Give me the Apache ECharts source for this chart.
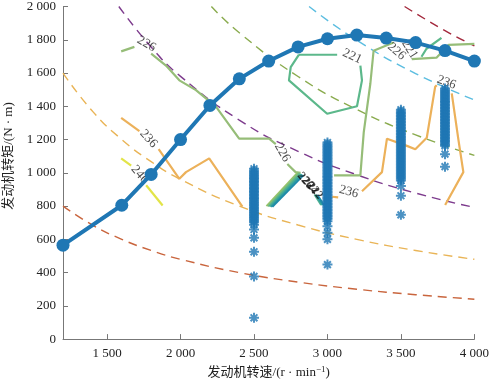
<!DOCTYPE html>
<html><head><meta charset="utf-8">
<script src="https://cdn.jsdelivr.net/npm/echarts@6/dist/echarts.min.js"></script>
<style>html,body{margin:0;padding:0;background:#fff}#c{width:492px;height:384px}</style>
</head><body><div id="c"></div>
<script>
// ---------- data ----------
const xTicks = [1500, 2000, 2500, 3000, 3500, 4000];
// maximum torque curve
const maxSpeed  = [1200, 1600, 1800, 2000, 2200, 2400, 2600, 2800, 3000, 3200, 3400, 3600, 3800, 4000];
const maxTorque = [565, 805, 990, 1200, 1405, 1565, 1672, 1757, 1806, 1828, 1810, 1783, 1735, 1672];

// constant power dashed curves [speed, torque]
const powA = [[1200,800],[1400,686],[1600,600],[1800,533],[2000,480],[2400,400],[2800,343],[3200,300],[3600,267],[4000,240]];
const powB = [[1200,1600],[1400,1371],[1600,1200],[1800,1067],[2000,960],[2400,800],[2800,686],[3200,600],[3600,533],[4000,480]];
const powC = [[1580,2000],[1800,1756],[2000,1580],[2400,1317],[2800,1129],[3200,988],[3600,878],[4000,792]];
const powD = [[2210,2000],[2400,1842],[2800,1579],[3200,1381],[3600,1228],[4000,1105]];
const powE = [[2875,2000],[3200,1797],[3600,1597],[4000,1438]];
const powF = [[3525,2000],[3800,1855],[4000,1763]];

// BSFC contours (segments)
const c221_1 = [[2806,1710],[3066,1710]];
const c221_2 = [[3224,1645],[3235,1556],[3201,1400],[2998,1355],[2738,1556],[2750,1635],[2806,1710]];
const c221_3 = [[3640,1698],[3674,1746],[3776,1811]];
const c226_1 = [[1596,1730],[1686,1757]];
const c226_2 = [[1800,1716],[1901,1645],[1992,1556],[2105,1497],[2241,1398],[2399,1205],[2603,1205],[2648,1172]];
const c226_3 = [[2727,1053],[2783,1004],[2817,1000]];
const c226_4 = [[3045,984],[3224,984],[3247,1243],[3292,1537],[3314,1734],[3450,1783]];
const c226_5 = [[3574,1684],[3742,1692],[3824,1769],[4000,1775]];
const c236_1 = [[1596,1330],[1720,1250]];
const c236_2 = [[1851,1142],[1992,964],[2037,1004],[2195,1087],[2421,797]];
const c236_3 = [[3032,856],[3073,852]];
const c236_4 = [[3235,889],[3371,1004],[3405,1205],[3541,1162],[3598,1142],[3676,1211],[3733,1517],[3744,1527]];
const c236_5 = [[3846,1478],[3891,1201],[3925,1004],[3801,806]];
const c246_1 = [[1596,1087],[1664,1043]];
const c246_2 = [[1766,925],[1878,803]];
// tightly packed contours (222–225)
const cg_1 = [[2797,1000],[2585,800]];
const cg_2 = [[2807,997],[2595,798]];
const cg_3 = [[2817,994],[2605,797]];
const cg_4 = [[2827,990],[2615,796]];
const cg_5 = [[2837,986],[2625,795]];
const cg_6 = [[2912,870],[2957,806]];
const cg_7 = [[2922,868],[2967,805]];
const cg_8 = [[2932,866],[2977,804]];

// contour labels [speed, torque, text, angle]
const contourLabels = [
  [1768,1775,'226',-30],[1782,1205,'236',-48],[1722,990,'246',-50],
  [2693,1122,'226',-60],[3168,1700,'221',-25],[3470,1730,'226',-42],
  [3560,1742,'221',-58],[3145,886,'236',-15],[3810,1544,'236',-20]
];
const blobLabels = [[2848,953,'226',-50],[2881,923,'224',-50],[2915,893,'222',-50]];

// operating points (asterisks)
const op2500 = [1024,1013,1004,995,986,978,969,961,952,944,935,926,918,909,901,892,884,875,866,858,849,841,832,823,815,806,798,789,780,772,763,755,746,737,729,720,712,703,688,659,609,525,377,128];
const op3000 = [1182,1172,1163,1154,1145,1136,1127,1118,1109,1100,1091,1082,1073,1064,1055,1046,1037,1028,1019,1010,1001,992,983,974,965,956,947,938,929,920,911,902,893,884,875,866,857,848,839,830,821,812,803,794,785,776,767,758,749,740,731,722,708,678,639,600,448];
const op3500 = [1379,1369,1360,1351,1342,1333,1324,1315,1306,1297,1288,1279,1270,1261,1252,1243,1234,1225,1216,1207,1198,1189,1180,1171,1162,1153,1144,1135,1126,1117,1108,1099,1090,1081,1072,1063,1054,1045,1036,1027,1018,1009,1000,991,982,973,964,954,921,862,747];
const op3800 = [1507,1497,1488,1479,1470,1461,1452,1443,1434,1425,1416,1407,1398,1389,1380,1371,1362,1353,1344,1335,1326,1317,1308,1299,1290,1281,1272,1263,1254,1245,1236,1227,1218,1209,1200,1191,1182,1172,1162,1112,1037];

// ---------- chart ----------
const BLUE = '#1f77b4';
const SERIF = '"Liberation Serif","Times New Roman","Noto Sans CJK SC",serif';
const star = 'path://M5,0L5,10M0,5L10,5M1.6,1.6L8.4,8.4M1.6,8.4L8.4,1.6';
const fmt = v => v >= 1000 ? String(v).replace(/(\d)(\d{3})$/, '$1 $2') : String(v);

const series = [];
function dashed(d, color) {
  series.push({type:'line', data:d, smooth:0.5, symbol:'none', silent:true,
    lineStyle:{color, width:1.4, type:[9,6]}, z:1});
}
function contour(d, color, w) {
  series.push({type:'line', data:d, symbol:'none', silent:true, lineStyle:{color, width:w||2.2}, z:2});
}
dashed(powA, '#c9653d'); dashed(powB, '#e9b456'); dashed(powC, '#7d3b8d');
dashed(powD, '#8aab4e'); dashed(powE, '#5bbde0'); dashed(powF, '#a3283c');

[c221_1,c221_2,c221_3].forEach(d => contour(d, '#5cb88b'));
[c226_1,c226_2,c226_3,c226_4,c226_5].forEach(d => contour(d, '#96bd78'));
[c236_1,c236_2,c236_3,c236_4,c236_5].forEach(d => contour(d, '#ecb15a'));
[c246_1,c246_2].forEach(d => contour(d, '#e2e448'));
const gCols = ['#98c36a','#74bb7d','#4fb091','#2f9fa0','#1f8aa8'];
[cg_1,cg_2,cg_3,cg_4,cg_5].forEach((d,i) => contour(d, gCols[i], 2));
[cg_6,cg_7,cg_8].forEach((d,i) => contour(d, gCols[i+2], 2));

series.push({type:'scatter', symbolSize:0, silent:true, z:3,
  data: contourLabels.map(l => ({value:[l[0],l[1]], name:l[2],
    label:{show:true, position:'inside', formatter:l[2], rotate:l[3], fontFamily:SERIF, fontSize:13, color:'#1a1a1a'}}))});
series.push({type:'scatter', symbolSize:0, silent:true, z:3,
  data: blobLabels.map(l => ({value:[l[0],l[1]], name:l[2],
    label:{show:true, position:'inside', formatter:l[2], rotate:l[3], fontFamily:SERIF, fontSize:12, fontWeight:'bold', color:'#111'}}))});

[[2500,op2500],[3000,op3000],[3500,op3500],[3800,op3800]].forEach(([x,arr]) => {
  series.push({type:'scatter', data:arr.map(t => [x,t]), symbol:star, symbolSize:10, silent:true, z:4,
    itemStyle:{color:'rgba(0,0,0,0)', borderColor:BLUE, borderWidth:2}});
});

series.push({type:'line', data:maxSpeed.map((s,i) => [s, maxTorque[i]]), symbol:'circle', symbolSize:13,
  lineStyle:{color:BLUE, width:4}, itemStyle:{color:BLUE}, z:5, silent:true});

const chart = echarts.init(document.getElementById('c'), null, {renderer:'canvas'});
chart.setOption({
  animation:false,
  grid:{left:63, right:16, top:5, bottom:41},
  xAxis:{type:'value', min:1200, max:4000,
    name:'{a|发动机转速/(r · min}{s|−1}{a|)}', nameLocation:'middle', nameGap:25,
    nameTextStyle:{rich:{a:{fontFamily:SERIF, fontSize:13, color:'#222'}, s:{fontFamily:SERIF, fontSize:9, color:'#222', verticalAlign:'top', padding:[0,0,6,0]}}},
    axisLine:{show:true, lineStyle:{color:'#777', width:1}},
    axisTick:{show:true, inside:true, length:5, customValues:xTicks, lineStyle:{color:'#777'}},
    axisLabel:{customValues:xTicks, formatter:fmt, fontFamily:SERIF, fontSize:13, color:'#222', margin:8},
    splitLine:{show:false}},
  yAxis:{type:'value', min:0, max:2000, interval:200,
    axisLine:{show:true, lineStyle:{color:'#777', width:1}},
    axisTick:{show:true, inside:true, length:5, lineStyle:{color:'#777'}},
    axisLabel:{formatter:fmt, fontFamily:SERIF, fontSize:13, color:'#222', margin:7},
    splitLine:{show:false}},
  graphic:[{type:'text', x:9, y:156, rotation:Math.PI/2,
    style:{text:'发动机转矩/(N · m)', font:'13px ' + SERIF, fill:'#222', textAlign:'center', textVerticalAlign:'middle'}}],
  series
});
</script></body></html>
